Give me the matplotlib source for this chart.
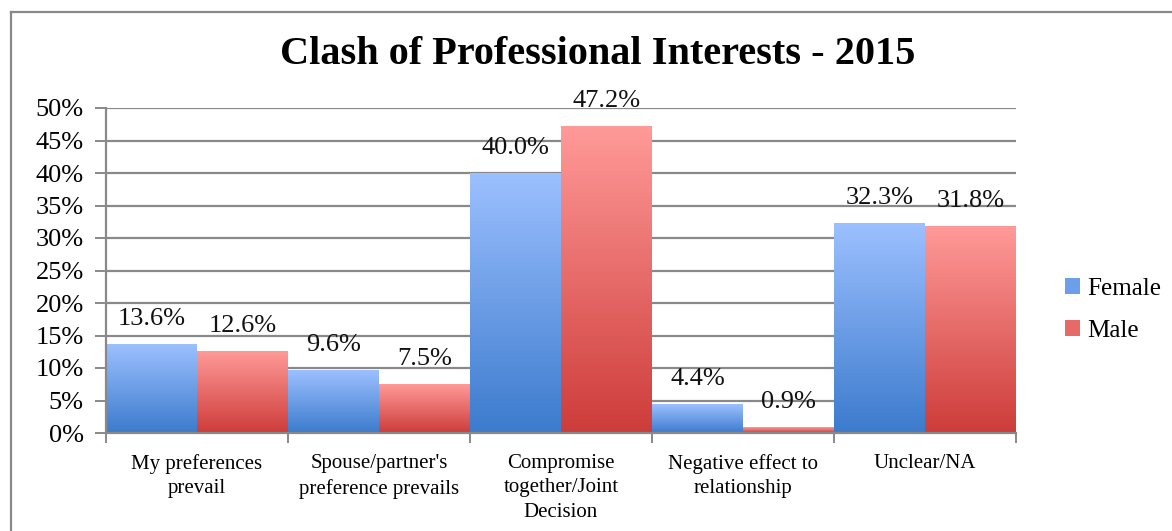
import matplotlib.pyplot as plt
import numpy as np
from matplotlib.colors import LinearSegmentedColormap
from matplotlib.lines import Line2D
from matplotlib.patches import Rectangle

categories = ["My preferences\nprevail", "Spouse/partner's\npreference prevails",
              "Compromise\ntogether/Joint\nDecision", "Negative effect to\nrelationship",
              "Unclear/NA"]
female = [13.6, 9.6, 40.0, 4.4, 32.3]
male = [12.6, 7.5, 47.2, 0.9, 31.8]
yticks = [0, 5, 10, 15, 20, 25, 30, 35, 40, 45, 50]

plt.rcParams['font.family'] = ['Liberation Serif', 'DejaVu Serif']

blue_map = LinearSegmentedColormap.from_list("fblue", ["#3c7bcd", "#9cc0ff"])
red_map = LinearSegmentedColormap.from_list("mred", ["#cd3c3a", "#ff9a98"])
grad = np.linspace(0, 1, 256).reshape(-1, 1)

fig = plt.figure(figsize=(11.72, 5.31), dpi=100)
ax = fig.add_axes([106 / 1172, 1 - 433 / 531, 910 / 1172, 325 / 531])

x = np.arange(len(categories))
w = 0.5

def gradient_bars(xs, vals, cmap):
    for xi, v in zip(xs, vals):
        ax.imshow(grad, cmap=cmap, origin='lower', aspect='auto',
                  extent=(xi - w / 2, xi + w / 2, 0, v), zorder=2)
        ax.text(xi, v + 2.2, f"{v:.1f}%", ha='center', va='bottom',
                fontsize=19, color='#111111', zorder=3)

gradient_bars(x - w / 2, female, blue_map)
gradient_bars(x + w / 2, male, red_map)

ax.set_xlim(-0.5, len(categories) - 0.5)
ax.set_ylim(0, 50)
ax.set_yticks(yticks)
ax.set_yticklabels([f"{t}%" for t in yticks], fontsize=19)
ax.yaxis.grid(True, color='#898989', linewidth=1.6, zorder=0)
ax.set_axisbelow(True)

ax.set_xticks(np.arange(len(categories) + 1) - 0.5, minor=False)
ax.set_xticklabels([])
ax.set_xticks(x, minor=True)
ax.set_xticklabels(categories, minor=True, fontsize=15, linespacing=1.4)
ax.tick_params(axis='x', which='minor', length=0, pad=15)
ax.tick_params(axis='x', which='major', length=7, width=1.4, color='#898989')
ax.tick_params(axis='y', length=8, width=1.4, color='#898989', pad=8)

for s in ['top', 'right']:
    ax.spines[s].set_visible(False)
for s in ['left', 'bottom']:
    ax.spines[s].set_color('#898989')
    ax.spines[s].set_linewidth(1.6)

fig.suptitle("Clash of Professional Interests - 2015", x=598 / 1172, y=1 - 55 / 531,
             va='center', fontsize=29, fontweight='bold')

handles = [Rectangle((0, 0), 1, 1, facecolor="#6c9eea"),
           Rectangle((0, 0), 1, 1, facecolor="#e66a68")]
fig.legend(handles, ["Female", "Male"], loc='center left',
           bbox_to_anchor=(1042 / 1172, 1 - 310 / 531), frameon=False,
           fontsize=18, handlelength=0.6, handleheight=0.6, handletextpad=0.3,
           labelspacing=0.8)

# outer chart frame
fig.add_artist(Line2D([10.5 / 1172, 10.5 / 1172], [0, 1 - 11.5 / 531],
                      color='#898989', linewidth=1.6))
fig.add_artist(Line2D([10.5 / 1172, 1], [1 - 11.5 / 531, 1 - 11.5 / 531],
                      color='#898989', linewidth=1.6))

fig.savefig("out.png", dpi=100)
